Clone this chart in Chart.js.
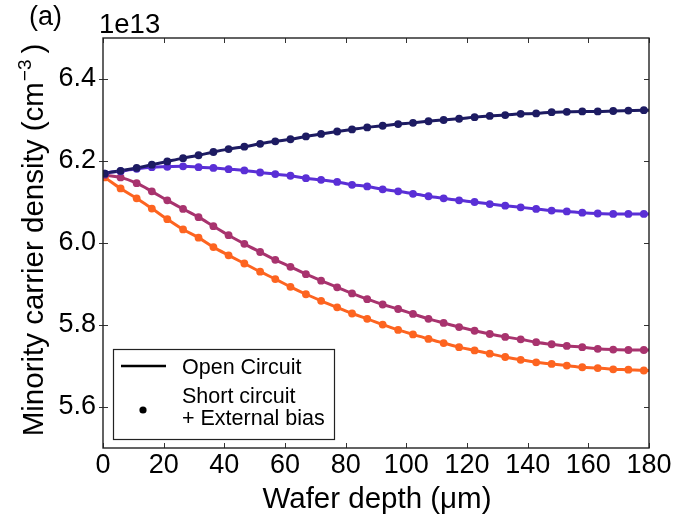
<!DOCTYPE html>
<html>
<head>
<meta charset="utf-8">
<script src="https://cdn.jsdelivr.net/npm/chart.js@4.4.1/dist/chart.umd.min.js"></script>
<style>
  html, body { margin: 0; padding: 0; background: #ffffff; }
  #wrap { width: 674px; height: 520px; }
</style>
</head>
<body>
<div id="wrap"><canvas id="c" width="674" height="520"></canvas></div>
<script>
// ---- data (values in units of 1e13 cm^-3) ----
const depthDots = [0.6, 5.8, 11.1, 16.1, 21.2, 26.4, 31.5, 36.4, 41.4, 46.6, 51.8, 56.8, 61.8, 66.9, 71.9, 77.2, 82.1, 87.1, 92.2, 97.3, 102.2, 107.3, 112.3, 117.4, 122.5, 127.5, 132.6, 137.7, 142.8, 147.9, 152.9, 158.0, 163.1, 168.2, 173.2, 178.3];
const seriesNavy = [6.169, 6.176, 6.183, 6.191, 6.199, 6.207, 6.214, 6.222, 6.229, 6.235, 6.242, 6.248, 6.253, 6.260, 6.266, 6.272, 6.277, 6.282, 6.286, 6.290, 6.293, 6.297, 6.300, 6.303, 6.307, 6.310, 6.312, 6.315, 6.316, 6.319, 6.320, 6.321, 6.321, 6.322, 6.323, 6.324];
const seriesPurple = [6.169, 6.175, 6.181, 6.185, 6.186, 6.187, 6.185, 6.183, 6.180, 6.177, 6.172, 6.168, 6.164, 6.158, 6.154, 6.149, 6.142, 6.138, 6.131, 6.126, 6.120, 6.114, 6.109, 6.104, 6.100, 6.095, 6.091, 6.087, 6.083, 6.079, 6.077, 6.074, 6.072, 6.071, 6.071, 6.071];
const seriesMagenta = [6.166, 6.160, 6.146, 6.126, 6.104, 6.083, 6.063, 6.041, 6.019, 5.998, 5.978, 5.959, 5.942, 5.924, 5.908, 5.892, 5.877, 5.863, 5.850, 5.839, 5.827, 5.815, 5.805, 5.795, 5.786, 5.778, 5.771, 5.765, 5.758, 5.753, 5.749, 5.746, 5.742, 5.740, 5.739, 5.739];
const seriesOrange = [6.160, 6.133, 6.109, 6.084, 6.058, 6.033, 6.013, 5.990, 5.970, 5.950, 5.930, 5.912, 5.893, 5.875, 5.859, 5.843, 5.828, 5.815, 5.801, 5.788, 5.777, 5.766, 5.756, 5.746, 5.738, 5.730, 5.722, 5.715, 5.709, 5.705, 5.701, 5.697, 5.695, 5.692, 5.691, 5.689];
// open-circuit curve end values at depth 0 and 180 µm
const lineDepthStart = 0;
const lineDepthEnd = 180;
const openStart = [6.166, 6.166, 6.167, 6.163];
const openEnd = [6.324, 6.071, 5.739, 5.689];
const xTickValues = [0, 20, 40, 60, 80, 100, 120, 140, 160, 180];
const yTickValues = [5.6, 5.8, 6.0, 6.2, 6.4];
const xRange = [0, 180];
const yRange = [5.5, 6.5];
const seriesColors = ['#1d1b62', '#5a2fd6', '#a8336e', '#fd6420'];
const allSeries = [seriesNavy, seriesPurple, seriesMagenta, seriesOrange];

const FONT = '"Liberation Sans", Arial, Helvetica, sans-serif';

const datasets = [];
allSeries.forEach((vals, i) => {
  datasets.push({
    label: 'dots' + i,
    data: depthDots.map((d, k) => ({ x: d, y: vals[k] })),
    showLine: false,
    pointRadius: 3.9,
    pointHoverRadius: 3.9,
    pointBackgroundColor: seriesColors[i],
    pointBorderColor: seriesColors[i],
    pointBorderWidth: 0,
    order: 0
  });
});
allSeries.forEach((vals, i) => {
  const pts = [{ x: lineDepthStart, y: openStart[i] }]
    .concat(depthDots.map((d, k) => ({ x: d, y: vals[k] })))
    .concat([{ x: lineDepthEnd, y: openEnd[i] }]);
  datasets.push({
    label: 'line' + i,
    data: pts,
    showLine: true,
    borderColor: seriesColors[i],
    borderWidth: 3,
    pointRadius: 0,
    cubicInterpolationMode: 'monotone',
    fill: false,
    order: 1
  });
});

const AREA = { left: 103, top: 38, right: 649, bottom: 448 };

const decorPlugin = {
  id: 'decor',
  afterDatasetsDraw(chart) {
    const ctx = chart.ctx;
    const ca = chart.chartArea;
    const xs = chart.scales.x, ys = chart.scales.y;
    ctx.save();
    // tick marks
    ctx.strokeStyle = '#333';
    ctx.lineWidth = 1;
    xTickValues.forEach(v => {
      const px = Math.round(xs.getPixelForValue(v)) + 0.5;
      ctx.beginPath();
      ctx.moveTo(px, ca.bottom); ctx.lineTo(px, ca.bottom - 5);
      ctx.moveTo(px, ca.top); ctx.lineTo(px, ca.top + 5);
      ctx.stroke();
    });
    yTickValues.forEach(v => {
      const py = Math.round(ys.getPixelForValue(v)) + 0.5;
      ctx.beginPath();
      ctx.moveTo(ca.left - 4, py); ctx.lineTo(ca.left + 5, py);
      ctx.moveTo(ca.right, py); ctx.lineTo(ca.right - 5, py);
      ctx.stroke();
    });
    // frame
    ctx.strokeStyle = '#222';
    ctx.lineWidth = 1.4;
    ctx.strokeRect(ca.left, ca.top, ca.right - ca.left, ca.bottom - ca.top);

    // legend
    const lx = 113, ly = 349, lw = 221, lh = 90;
    ctx.fillStyle = '#ffffff';
    ctx.fillRect(lx, ly, lw, lh);
    ctx.strokeStyle = '#222';
    ctx.lineWidth = 1.2;
    ctx.strokeRect(lx + 0.5, ly + 0.5, lw, lh);
    ctx.strokeStyle = '#000';
    ctx.lineWidth = 2.6;
    ctx.beginPath(); ctx.moveTo(121, 366); ctx.lineTo(166, 366); ctx.stroke();
    ctx.fillStyle = '#000';
    ctx.beginPath(); ctx.arc(143, 410, 3.6, 0, Math.PI * 2); ctx.fill();
    ctx.font = '21.5px ' + FONT;
    ctx.textAlign = 'left';
    ctx.textBaseline = 'alphabetic';
    ctx.fillText('Open Circuit', 182, 374);
    ctx.fillText('Short circuit', 182, 403);
    ctx.fillText('+ External bias', 182, 425);

    // panel label and offset text
    ctx.font = '27px ' + FONT;
    ctx.fillText('(a)', 29, 25);
    ctx.font = '27.5px ' + FONT;
    ctx.fillText('1e13', 99, 33);

    // x title
    const TF = 29.5;
    ctx.font = TF + 'px ' + FONT;
    ctx.textAlign = 'center';
    ctx.fillText('Wafer depth (\u03bcm)', (ca.left + ca.right) / 2 + 1, 508);

    // y title with superscript
    const main = 'Minority carrier density (cm';
    const sup = '\u22123';
    const tail = ')';
    ctx.font = TF + 'px ' + FONT;
    const wMain = ctx.measureText(main).width;
    const wTail = ctx.measureText(tail).width;
    ctx.font = '19px ' + FONT;
    const wSup = ctx.measureText(sup).width;
    const gap = 7;
    const total = wMain + wSup + gap + wTail;
    ctx.translate(43, 240);
    ctx.rotate(-Math.PI / 2);
    ctx.textAlign = 'left';
    let x0 = -total / 2;
    ctx.font = TF + 'px ' + FONT;
    ctx.fillText(main, x0, 0);
    ctx.font = '19px ' + FONT;
    ctx.fillText(sup, x0 + wMain + 1, -12);
    ctx.font = TF + 'px ' + FONT;
    ctx.fillText(tail, x0 + wMain + wSup + gap, 0);
    ctx.restore();
  }
};

new Chart(document.getElementById('c'), {
  type: 'scatter',
  data: { datasets },
  options: {
    responsive: false,
    devicePixelRatio: 1,
    animation: false,
    events: [],
    layout: { padding: { left: 0, top: AREA.top, right: 674 - AREA.right, bottom: 0 } },
    plugins: { legend: { display: false }, tooltip: { enabled: false } },
    scales: {
      x: {
        type: 'linear',
        min: xRange[0], max: xRange[1],
        afterFit(scale) { scale.height = 520 - AREA.bottom; },
        afterBuildTicks(scale) { scale.ticks = xTickValues.map(v => ({ value: v })); },
        ticks: {
          font: { family: FONT, size: 27 },
          color: '#000',
          padding: 1,
          maxRotation: 0,
          autoSkip: false,
          callback: v => String(v)
        },
        grid: { display: false, drawTicks: false },
        border: { display: false }
      },
      y: {
        type: 'linear',
        min: yRange[0], max: yRange[1],
        afterFit(scale) { scale.width = AREA.left; },
        afterBuildTicks(scale) { scale.ticks = yTickValues.map(v => ({ value: v })); },
        ticks: {
          font: { family: FONT, size: 27 },
          color: '#000',
          padding: 7,
          autoSkip: false,
          callback: v => Number(v).toFixed(1)
        },
        grid: { display: false, drawTicks: false },
        border: { display: false }
      }
    }
  },
  plugins: [decorPlugin]
});
</script>
</body>
</html>
